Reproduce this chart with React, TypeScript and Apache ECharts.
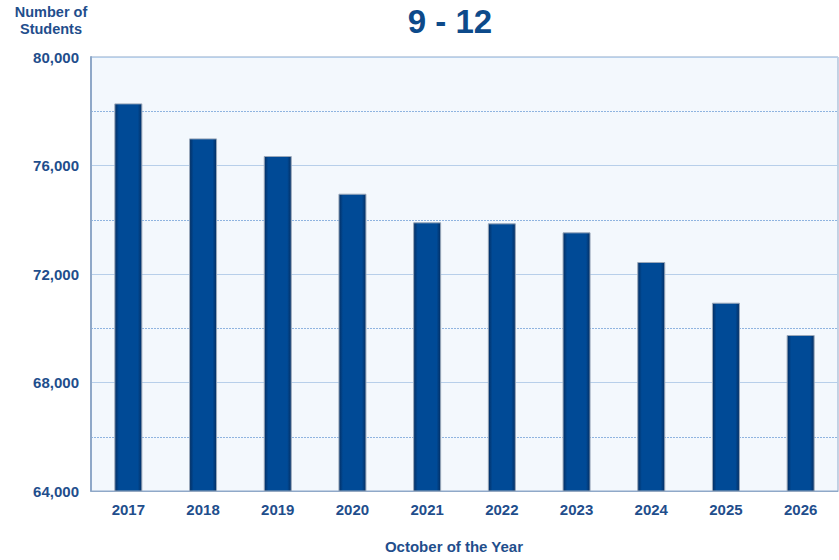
import React, { useEffect, useRef } from "react";
import * as echarts from "echarts";

const years = ["2017", "2018", "2019", "2020", "2021", "2022", "2023", "2024", "2025", "2026"];
const students = [78290, 77000, 76350, 74960, 73905, 73868, 73536, 72442, 70942, 69751];
const yMin = 64000;
const yMax = 80000;
const yStep = 4000;

const TEXT = "#1f4e8c";
const FONT = "'Liberation Sans', Arial, sans-serif";

export default function App() {
  const ref = useRef<HTMLDivElement>(null);
  useEffect(() => {
    document.body.style.margin = "0";
    const chart = echarts.init(ref.current!, undefined, { renderer: "svg" });
    chart.setOption({
      animation: false,
      backgroundColor: "#ffffff",
      textStyle: { fontFamily: FONT },
      grid: { left: 91, top: 57, width: 747, height: 434, show: true, backgroundColor: "#f3f8fd", borderColor: "#8fa8c8", borderWidth: 1 },
      graphic: [
        {
          type: "text",
          x: 450,
          y: 5,
          style: {
            text: "9 - 12",
            align: "center",
            fill: "#0d4a8a",
            font: `bold 33px ${FONT}`,
          },
        },
        {
          type: "text",
          x: 51,
          y: 3,
          style: {
            text: "Number of\nStudents",
            align: "center",
            fill: TEXT,
            font: `bold 14.5px ${FONT}`,
            lineHeight: 17,
          },
        },
        {
          type: "text",
          x: 454,
          y: 539,
          style: {
            text: "October of the Year",
            align: "center",
            fill: TEXT,
            font: `bold 15px ${FONT}`,
          },
        },
      ],
      xAxis: {
        type: "category",
        data: years,
        axisLine: { show: true, lineStyle: { color: "#8fa8c8", width: 1 } },
        axisTick: { show: false },
        axisLabel: { color: TEXT, fontWeight: "bold", fontSize: 15, margin: 11, fontFamily: FONT },
      },
      yAxis: {
        type: "value",
        min: yMin,
        max: yMax,
        interval: yStep,
        axisLine: { show: true, lineStyle: { color: "#8fa8c8", width: 2 } },
        axisTick: { show: false },
        axisLabel: {
          color: TEXT,
          fontWeight: "bold",
          fontSize: 15,
          margin: 12,
          fontFamily: FONT,
          formatter: (v: number) => v.toLocaleString("en-US"),
        },
        splitLine: { show: true, lineStyle: { color: "#b7cfea", width: 1 } },
        minorTick: { show: false, splitNumber: 2 },
        minorSplitLine: { show: true, lineStyle: { color: "#8fb4e0", width: 1, type: [2, 1] } },
      },
      series: [
        {
          type: "bar",
          data: students,
          barWidth: 28,
          itemStyle: {
            color: new echarts.graphic.LinearGradient(0, 0, 1, 0, [
              { offset: 0, color: "#042e62" },
              { offset: 0.15, color: "#004a96" },
              { offset: 0.85, color: "#004a96" },
              { offset: 1, color: "#042e62" },
            ]),
            borderColor: "#9aa8ba",
            borderWidth: 1,
          },
        },
      ],
    });
    return () => chart.dispose();
  }, []);
  return <div ref={ref} style={{ width: 839, height: 560 }} />;
}
